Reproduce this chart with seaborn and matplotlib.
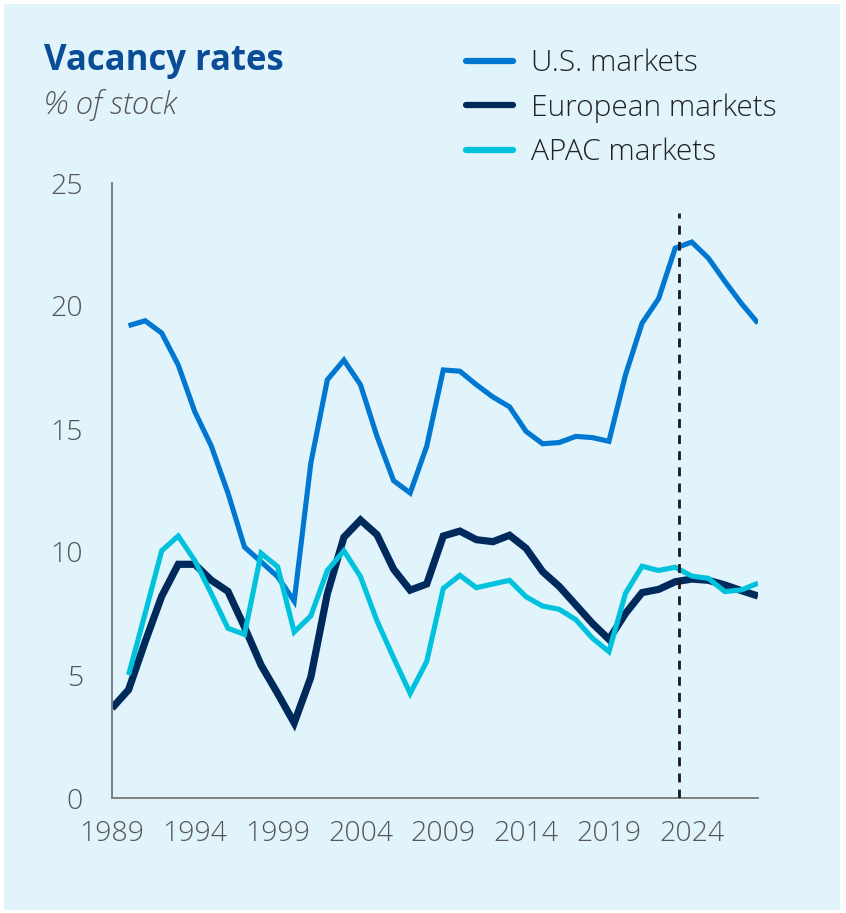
import matplotlib
matplotlib.use("Agg")
import matplotlib.pyplot as plt
import matplotlib.patches as mpatches
from matplotlib.lines import Line2D
import numpy as np
import pandas as pd
import seaborn as sns

years = list(range(1989, 2029))

us_markets = [np.nan, 19.2, 19.4, 18.9, 17.6, 15.7, 14.3, 12.4, 10.2, 9.6,
              9.0, 8.0, 13.6, 17.0, 17.8, 16.8, 14.7, 12.9, 12.4, 14.3,
              17.4, 17.35, 16.8, 16.3, 15.9, 14.9, 14.4, 14.45, 14.7, 14.65,
              14.5, 17.2, 19.3, 20.3, 22.35, 22.6, 21.95, 21.0, 20.1, 19.3]

european_markets = [3.65, 4.4, 6.35, 8.2, 9.5, 9.5, 8.85, 8.4, 6.95, 5.4,
                    4.25, 3.05, 4.9, 8.3, 10.6, 11.3, 10.7, 9.3, 8.45, 8.7,
                    10.65, 10.85, 10.5, 10.42, 10.68, 10.15, 9.2, 8.6, 7.85, 7.1,
                    6.45, 7.5, 8.35, 8.48, 8.79, 8.9, 8.85, 8.66, 8.43, 8.21]

apac_markets = [np.nan, 5.0, 7.5, 10.05, 10.65, 9.65, 8.3, 6.9, 6.65, 9.95,
                9.4, 6.75, 7.4, 9.25, 10.05, 9.0, 7.2, 5.7, 4.25, 5.55,
                8.52, 9.05, 8.55, 8.7, 8.85, 8.18, 7.8, 7.67, 7.25, 6.5,
                5.95, 8.32, 9.42, 9.25, 9.38, 9.02, 8.93, 8.39, 8.46, 8.73]

series_names = ["U.S. markets", "European markets", "APAC markets"]
series_colors = ["#0077D0", "#002A5C", "#00C2DC"]
series_widths = [3.7, 5.2, 3.7]
x_ticks = [1989, 1994, 1999, 2004, 2009, 2014, 2019, 2024]
y_ticks = [0, 5, 10, 15, 20, 25]
forecast_start = 2023.25
forecast_top = 23.8

frame = pd.DataFrame({
    "year": years * 3,
    "rate": us_markets + european_markets + apac_markets,
    "market": sum([[n] * len(years) for n in series_names], []),
})

sns.set_style("white")
plt.rcParams["font.family"] = ["Open Sans", "DejaVu Sans"]

bg = "#E1F4FC"
fig = plt.figure(figsize=(8.46, 9.13), dpi=100, facecolor="white")
fig.patches.append(mpatches.Rectangle((4 / 846, 1 - 910 / 913), 836 / 846, 906 / 913,
                                      transform=fig.transFigure, facecolor=bg,
                                      edgecolor="none", zorder=-10))

ax = fig.add_axes([112 / 846, 1 - 798 / 913, 646 / 846, 615 / 913])
ax.set_facecolor(bg)
ax.set_zorder(1)

for name, color, lw in zip(series_names, series_colors, series_widths):
    sub = frame[frame["market"] == name].dropna()
    sns.lineplot(data=sub, x="year", y="rate", color=color, linewidth=lw,
                 ax=ax, legend=False, solid_capstyle="butt", solid_joinstyle="miter")

ax.vlines(forecast_start, 0, forecast_top, color="#1a1a1a", linewidth=2.0,
          linestyle=(0, (3.2, 2.6)), zorder=5)

ax.set_xlim(1989, 2028)
ax.set_ylim(0, 25)
ax.set_xticks(x_ticks)
ax.set_yticks(y_ticks)
ax.set_xlabel("")
ax.set_ylabel("")
for side in ["top", "right"]:
    ax.spines[side].set_visible(False)
for side in ["left", "bottom"]:
    ax.spines[side].set_color("#7f7f7f")
    ax.spines[side].set_linewidth(1.4)
ax.tick_params(axis="both", length=0, labelsize=20.5, labelcolor="#555555")
ax.tick_params(axis="y", pad=21)
ax.tick_params(axis="x", pad=16)
for lab in ax.get_xticklabels() + ax.get_yticklabels():
    lab.set_fontweight(300)

fig.text(44 / 846, 1 - 61 / 913, "Vacancy rates", fontsize=25, fontweight="bold",
         color="#0A4D96", va="center", ha="left")
fig.text(44 / 846, 1 - 105 / 913, "% of stock", fontsize=22.5, fontstyle="italic",
         fontweight=300, color="#555555", va="center", ha="left")

handles = [Line2D([0], [0], color=c, linewidth=4.5, solid_capstyle="round")
           for c in series_colors]
leg = fig.legend(handles, series_names, loc="upper left",
                 bbox_to_anchor=(439 / 846, 1 - 22 / 913), frameon=False,
                 fontsize=21.5, handlelength=1.57, handletextpad=0.6,
                 labelspacing=0.5, labelcolor="#222222")
for t in leg.get_texts():
    t.set_fontweight(300)

fig.savefig("out.png", dpi=100, facecolor="white")
